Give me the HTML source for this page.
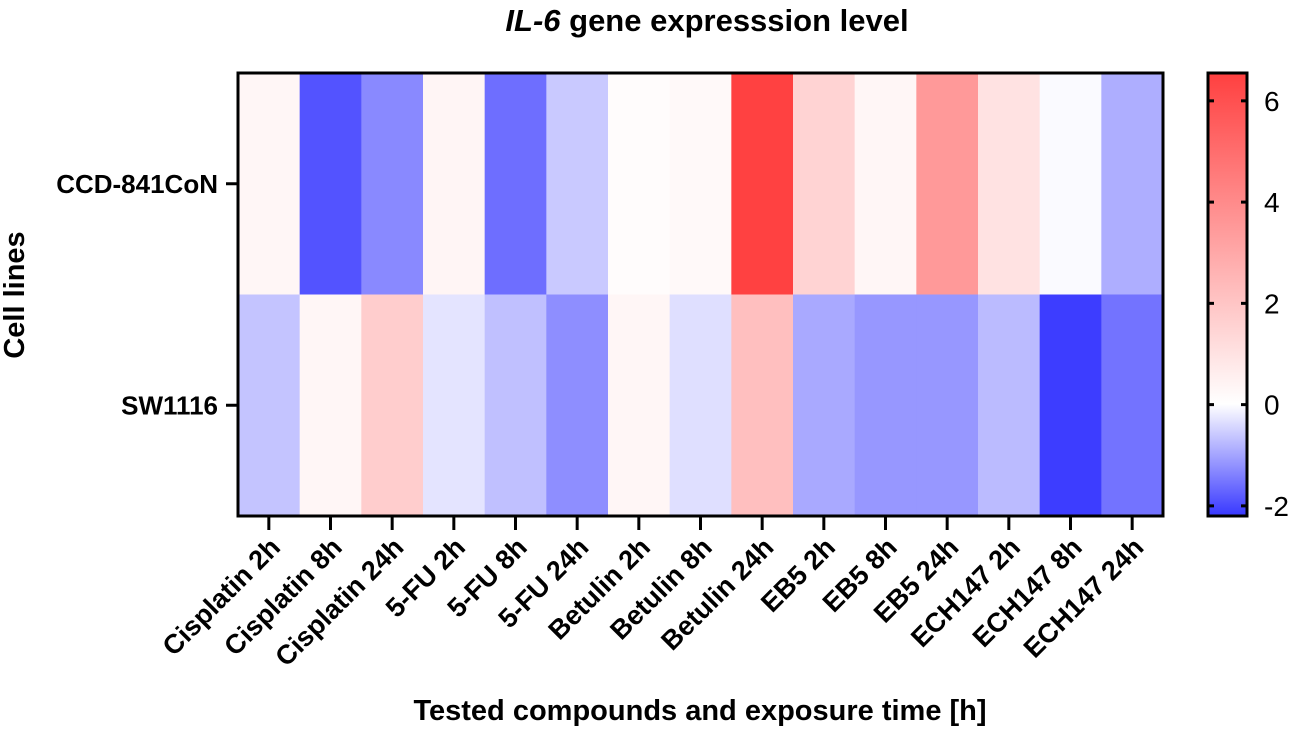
<!DOCTYPE html>
<html><head><meta charset="utf-8"><style>
body{margin:0;background:#fff;}
svg text{font-family:"Liberation Sans",Arial,sans-serif;}
</style></head><body>
<svg id="chart" width="1300" height="731" viewBox="0 0 1300 731" xmlns="http://www.w3.org/2000/svg">
<defs>
<linearGradient id="cbg" x1="0" y1="1" x2="0" y2="0">
<stop offset="0" stop-color="rgb(56,56,255)"/>
<stop offset="0.2529" stop-color="rgb(255,255,255)"/>
<stop offset="1" stop-color="rgb(255,64,64)"/>
</linearGradient>
</defs>
<text x="707" y="31" text-anchor="middle" font-size="31" font-weight="bold"><tspan font-style="italic">IL-6</tspan> gene expresssion level</text>
<g id="cells"></g>
<rect x="238" y="73" width="925" height="443" fill="none" stroke="#000" stroke-width="3"/>
<g id="axes"></g>
<text transform="translate(24,295) rotate(-90)" text-anchor="middle" font-size="29" font-weight="bold">Cell lines</text>
<text x="700" y="720" text-anchor="middle" font-size="29" font-weight="bold">Tested compounds and exposure time [h]</text>
<rect x="1208" y="73" width="39" height="443" fill="url(#cbg)" stroke="#000" stroke-width="3"/>
<g id="cbticks"></g>
</svg>
<script>
const categories=["Cisplatin 2h","Cisplatin 8h","Cisplatin 24h","5-FU 2h","5-FU 8h","5-FU 24h","Betulin 2h","Betulin 8h","Betulin 24h","EB5 2h","EB5 8h","EB5 24h","ECH147 2h","ECH147 8h","ECH147 24h"];
const rowLabels=["CCD-841CoN","SW1116"];
const rowCCD=[0.3,-1.9,-1.3,0.35,-1.6,-0.6,0.1,0.2,6.5,1.5,0.3,3.5,1.0,-0.05,-0.9];
const rowSW=[-0.65,0.3,1.7,-0.3,-0.7,-1.25,0.3,-0.35,2.2,-0.95,-1.15,-1.15,-0.75,-2.15,-1.55];
const cbTicks=[-2,0,2,4,6];
const vmin=-2.2,vmax=6.55;
const X0=238,X1=1163,Y0=73,Y1=516;
const NS="http://www.w3.org/2000/svg";
const cw=(X1-X0)/categories.length, rh=(Y1-Y0)/rowLabels.length;
function color(v){
  let r,g,b;
  if(v>=0){const t=Math.min(v/vmax,1);r=255;g=Math.round(255-191*t);b=g;}
  else{const t=Math.min(v/vmin,1);b=255;r=Math.round(255-199*t);g=r;}
  return `rgb(${r},${g},${b})`;
}
function cy(v){return Y1-(v-vmin)/(vmax-vmin)*(Y1-Y0);}
const cells=document.getElementById('cells');
[rowCCD,rowSW].forEach((row,ri)=>{
  row.forEach((v,ci)=>{
    const r=document.createElementNS(NS,'rect');
    r.setAttribute('x',X0+ci*cw);r.setAttribute('y',Y0+ri*rh);
    r.setAttribute('width',cw+0.5);r.setAttribute('height',rh+0.5);
    r.setAttribute('fill',color(v));
    
    
    cells.appendChild(r);
  });
});
const axes=document.getElementById('axes');
categories.forEach((c,i)=>{
  const x=X0+(i+0.5)*cw;
  const l=document.createElementNS(NS,'line');
  l.setAttribute('x1',x);l.setAttribute('x2',x);l.setAttribute('y1',Y1);l.setAttribute('y2',Y1+14);
  l.setAttribute('stroke','#000');l.setAttribute('stroke-width','3');
  
  
  axes.appendChild(l);
  const t=document.createElementNS(NS,'text');
  t.setAttribute('transform',`translate(${x+13},${Y1+33}) rotate(-45)`);
  t.setAttribute('text-anchor','end');t.setAttribute('font-size','27');t.setAttribute('font-weight','bold');
  t.textContent=c;
  
  
  axes.appendChild(t);
});
rowLabels.forEach((c,i)=>{
  const y=Y0+(i+0.5)*rh;
  const l=document.createElementNS(NS,'line');
  l.setAttribute('x1',X0-12);l.setAttribute('x2',X0);l.setAttribute('y1',y);l.setAttribute('y2',y);
  l.setAttribute('stroke','#000');l.setAttribute('stroke-width','3');
  
  
  axes.appendChild(l);
  const t=document.createElementNS(NS,'text');
  t.setAttribute('x',X0-20);t.setAttribute('y',y+9);
  t.setAttribute('text-anchor','end');t.setAttribute('font-size','26');t.setAttribute('font-weight','bold');
  t.textContent=c;
  
  
  axes.appendChild(t);
});
const cb=document.getElementById('cbticks');
cbTicks.forEach(v=>{
  const y=cy(v);
  [[1208,1214],[1241,1247]].forEach(p=>{
    const l=document.createElementNS(NS,'line');
    l.setAttribute('x1',p[0]);l.setAttribute('x2',p[1]);l.setAttribute('y1',y);l.setAttribute('y2',y);
    l.setAttribute('stroke','#000');l.setAttribute('stroke-width','3');
    
    
    cb.appendChild(l);
  });
  const t=document.createElementNS(NS,'text');
  t.setAttribute('x',1264);t.setAttribute('y',y+10);t.setAttribute('font-size','28');
  t.textContent=v<0?'-'+Math.abs(v):String(v);
  
  
  cb.appendChild(t);
});
</script>
</body></html>
